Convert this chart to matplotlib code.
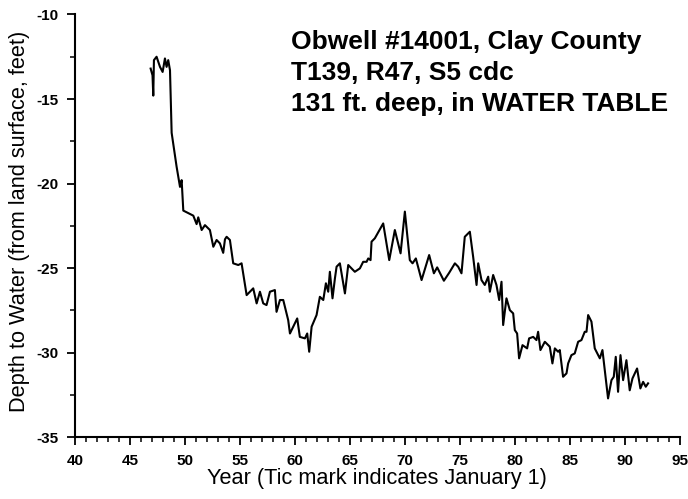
import matplotlib
matplotlib.use("Agg")
import matplotlib.pyplot as plt
from matplotlib.ticker import MultipleLocator

plt.rcParams['font.family'] = ['Liberation Sans', 'DejaVu Sans']
plt.rcParams['axes.unicode_minus'] = False

# water level record (year - 1900, feet)
years = [46.88, 47.05, 47.12, 47.18, 47.42, 47.73, 47.97, 48.18, 48.33, 48.48, 48.64,
         48.79, 49.24, 49.39, 49.55, 49.70, 49.85, 50.76, 51.06, 51.21, 51.52, 51.82,
         52.27, 52.58, 52.88, 53.18, 53.48, 53.64, 53.79, 54.09, 54.39, 54.85, 55.15,
         55.61, 56.21, 56.52, 56.82, 57.12, 57.42, 57.73, 58.18, 58.33, 58.64, 58.94,
         59.39, 59.55, 59.85, 60.21, 60.45, 60.91, 61.12, 61.30, 61.52, 61.97, 62.27,
         62.58, 62.82, 63.03, 63.18, 63.42, 63.64, 63.79, 64.09, 64.55, 64.85, 65.15,
         65.45, 65.91, 66.21, 66.52, 66.67, 66.88, 66.97, 67.27, 68.03, 68.58, 69.09,
         69.61, 70.00, 70.45, 70.70, 71.00, 71.52, 72.21, 72.64, 72.94, 73.55, 74.03,
         74.55, 74.85, 75.15, 75.45, 75.91, 76.21, 76.52, 76.67, 76.97, 77.27, 77.58,
         77.73, 78.03, 78.33, 78.58, 78.79, 78.94, 79.24, 79.55, 79.85, 80.00, 80.21,
         80.39, 80.70, 81.12, 81.30, 81.67, 81.97, 82.12, 82.33, 82.73, 83.18, 83.42,
         83.64, 83.94, 84.09, 84.39, 84.70, 84.85, 85.15, 85.45, 85.76, 86.06, 86.36,
         86.52, 86.67, 86.97, 87.27, 87.73, 87.97, 88.18, 88.48, 88.79, 89.00, 89.18,
         89.39, 89.61, 89.85, 90.15, 90.45, 90.70, 91.12, 91.42, 91.67, 91.91, 92.12]
depth = [-13.2, -13.6, -14.8, -12.7, -12.5, -13.1, -13.4, -12.6, -13.1, -12.7, -13.3,
         -17.0, -19.0, -19.6, -20.2, -19.8, -21.6, -21.9, -22.4, -22.0, -22.75, -22.46,
         -22.75, -23.74, -23.34, -23.54, -24.1, -23.3, -23.15, -23.34, -24.72, -24.82, -24.72,
         -26.6, -26.2, -27.09, -26.4, -27.09, -27.19, -26.4, -26.3, -27.59, -26.89, -26.89,
         -28.08, -28.87, -28.47, -27.98, -29.07, -29.16, -28.87, -29.95, -28.47, -27.78, -26.7,
         -26.89, -25.9, -26.4, -25.22, -26.79, -25.61, -24.92, -24.72, -26.5, -24.82, -25.02,
         -25.22, -25.02, -24.63, -24.63, -24.43, -24.53, -23.44, -23.24, -22.36, -24.53, -22.75,
         -24.13, -21.66, -24.53, -24.72, -24.43, -25.71, -24.23, -25.31, -24.96, -25.75, -25.28,
         -24.72, -24.92, -25.31, -23.15, -22.85, -24.33, -26.0, -24.72, -25.71, -26.0, -25.51,
         -26.4, -25.41, -26.0, -26.89, -25.81, -28.37, -26.79, -27.49, -27.68, -28.67, -28.87,
         -30.34, -29.56, -29.75, -29.16, -29.07, -29.26, -28.77, -29.85, -29.36, -29.65, -30.64,
         -29.75, -29.95, -29.85, -31.43, -31.23, -30.64, -30.15, -30.05, -29.36, -29.26, -28.77,
         -28.77, -27.78, -28.17, -29.75, -30.34, -29.85, -31.04, -32.71, -31.63, -31.43, -30.25,
         -32.32, -30.15, -31.63, -30.45, -32.23, -31.53, -30.94, -32.12, -31.73, -32.02, -31.82]

title_lines = ["Obwell #14001, Clay County",
               "T139, R47, S5 cdc",
               "131 ft. deep, in WATER TABLE"]

fig = plt.figure(figsize=(6.88, 4.99), dpi=100)
ax = fig.add_axes([0.109, 0.124, 0.879, 0.847])

ax.plot(years, depth, color='black', linewidth=1.5)

ax.set_xlim(40, 95)
ax.set_ylim(-35, -10)
ax.xaxis.set_major_locator(MultipleLocator(5))
ax.xaxis.set_minor_locator(MultipleLocator(1))
ax.yaxis.set_major_locator(MultipleLocator(5))
ax.yaxis.set_minor_locator(MultipleLocator(2.5))

for s in ['top', 'right']:
    ax.spines[s].set_visible(False)
for s in ['left', 'bottom']:
    ax.spines[s].set_linewidth(1.5)

ax.tick_params(which='major', direction='out', length=6, width=1.3, pad=6,
               labelsize=11)
ax.tick_params(which='minor', direction='out', length=3.5, width=1.1)
for lab in ax.get_xticklabels() + ax.get_yticklabels():
    lab.set_fontweight('bold')

ax.set_xlabel("Year (Tic mark indicates January 1)", fontsize=15.7)
ax.xaxis.set_label_coords(0.5, -0.073)
ax.set_ylabel("Depth to Water (from land surface, feet)", fontsize=15.7)
ax.yaxis.set_label_coords(-0.074, 0.51)

# title block, baselines spaced like the original
for i, t in enumerate(title_lines):
    fig.text(0.423, 1 - (48.5 + 31.2 * i) / 499, t, fontsize=19, fontweight='bold',
             va='baseline', ha='left')

fig.savefig("out.png", dpi=100)
